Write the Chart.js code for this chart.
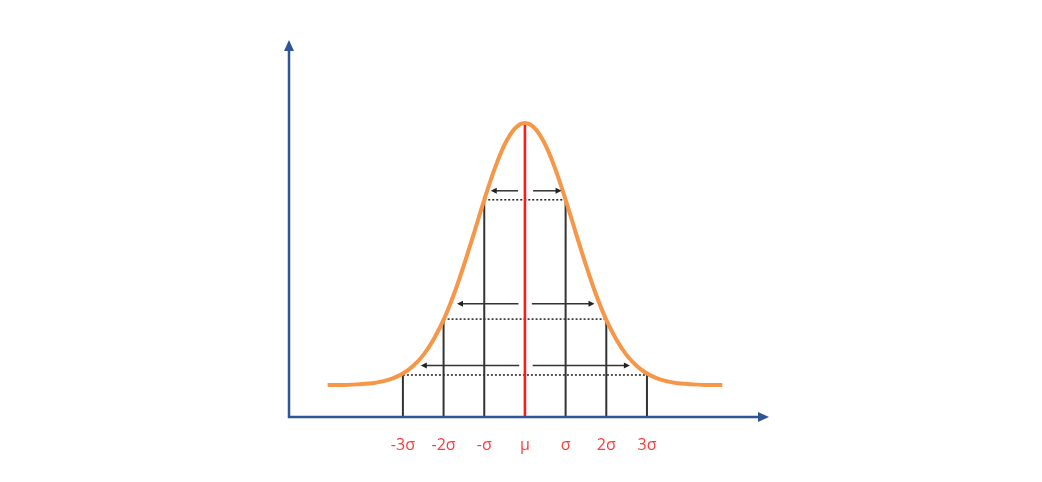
<!DOCTYPE html>
<html>
<head>
<meta charset="utf-8">
<script src="https://cdn.jsdelivr.net/npm/chart.js@4/dist/chart.umd.min.js"></script>
<style>
  html, body { margin: 0; padding: 0; background: #fff; }
  #wrap { width: 1042px; height: 482px; }
</style>
</head>
<body>
<div id="wrap"><canvas id="myChart" width="1042" height="482"></canvas></div>
<script>
// bell curve (x in sigma units, y in arbitrary height units)
const curveX = [-4.85, -4.5, -4, -3.75, -3.5, -3.25, -3, -2.75, -2.5, -2.25, -2, -1.75, -1.5, -1.25, -1, -0.75, -0.5, -0.25, 0,
                0.25, 0.5, 0.75, 1, 1.25, 1.5, 1.75, 2, 2.25, 2.5, 2.75, 3, 3.25, 3.5, 3.75, 4, 4.5, 4.85];
const curveY = [8.5, 8.5, 8.8, 9.0, 9.5, 10.3, 11.6, 13.6, 16.5, 20.6, 25.9, 32.6, 40.5, 49.1, 57.9, 66.0, 72.6, 76.9, 78.4,
                76.9, 72.6, 66.0, 57.9, 49.1, 40.5, 32.6, 25.9, 20.6, 16.5, 13.6, 11.6, 10.3, 9.5, 9.0, 8.8, 8.5, 8.5];

// sigma marks
const sigmaPos = [-3, -2, -1, 0, 1, 2, 3];
const sigmaLabels = ['-3σ', '-2σ', '-σ', 'μ', 'σ', '2σ', '3σ'];
const markHeights = [11.2, 26.1, 57.9, 78.4, 57.9, 26.1, 11.2];

// dotted levels (half width in sigma, height)
const levelSpan = [1, 2, 3];
const levelY = [57.9, 26.1, 11.2];

// arrows: height, tail and tip on each side
const arrowY = [60.3, 30.2, 13.7];
const arrowLeftTail = [-0.17, -0.16, -0.14];
const arrowLeftTip = [-0.84, -1.67, -2.56];
const arrowRightTail = [0.2, 0.17, 0.19];
const arrowRightTip = [0.9, 1.71, 2.58];

const datasets = [];
datasets.push({
    data: curveX.map((x, i) => ({ x: x, y: curveY[i] })),
    borderColor: '#f79646',
    borderWidth: 4,
    pointRadius: 0,
    cubicInterpolationMode: 'monotone',
    order: 0
});
sigmaPos.forEach((p, i) => {
    datasets.push({
        data: [{ x: p, y: 0 }, { x: p, y: markHeights[i] }],
        borderColor: p === 0 ? '#ff1a1a' : '#333333',
        borderWidth: p === 0 ? 2.6 : 2,
        pointRadius: 0,
        order: 1
    });
});
levelSpan.forEach((s, i) => {
    datasets.push({
        data: [{ x: -s, y: levelY[i] }, { x: s, y: levelY[i] }],
        borderColor: '#111111',
        borderWidth: 1.4,
        borderDash: [2, 2],
        pointRadius: 0,
        order: 2
    });
});

const decor = {
    id: 'decor',
    afterDatasetsDraw(chart) {
        const ctx = chart.ctx;
        const a = chart.chartArea;
        const xs = chart.scales.x, ys = chart.scales.y;
        ctx.save();

        // axes with arrow heads
        ctx.strokeStyle = '#2f5597';
        ctx.fillStyle = '#2f5597';
        ctx.lineWidth = 2.5;
        ctx.beginPath();
        ctx.moveTo(a.left, a.top + 8);
        ctx.lineTo(a.left, a.bottom);
        ctx.lineTo(a.right - 8, a.bottom);
        ctx.stroke();
        ctx.beginPath();
        ctx.moveTo(a.left, a.top);
        ctx.lineTo(a.left - 5, a.top + 11);
        ctx.lineTo(a.left + 5, a.top + 11);
        ctx.closePath();
        ctx.fill();
        ctx.beginPath();
        ctx.moveTo(a.right, a.bottom);
        ctx.lineTo(a.right - 11, a.bottom - 5);
        ctx.lineTo(a.right - 11, a.bottom + 5);
        ctx.closePath();
        ctx.fill();

        // arrows
        ctx.strokeStyle = '#333333';
        ctx.fillStyle = '#222222';
        ctx.lineWidth = 1.5;
        const arrow = (x0, x1, yv) => {
            const px0 = xs.getPixelForValue(x0), px1 = xs.getPixelForValue(x1);
            const py = ys.getPixelForValue(yv);
            const dir = Math.sign(px1 - px0);
            ctx.beginPath();
            ctx.moveTo(px0, py);
            ctx.lineTo(px1 - dir * 3, py);
            ctx.stroke();
            ctx.beginPath();
            ctx.moveTo(px1, py);
            ctx.lineTo(px1 - dir * 6, py - 3);
            ctx.lineTo(px1 - dir * 6, py + 3);
            ctx.closePath();
            ctx.fill();
        };
        arrowY.forEach((yv, i) => {
            arrow(arrowLeftTail[i], arrowLeftTip[i], yv);
            arrow(arrowRightTail[i], arrowRightTip[i], yv);
        });

        // sigma labels
        ctx.fillStyle = '#ff3b3b';
        ctx.font = '16px "Open Sans"';
        ctx.textAlign = 'center';
        ctx.textBaseline = 'middle';
        sigmaPos.forEach((p, i) => {
            ctx.fillText(sigmaLabels[i], xs.getPixelForValue(p), a.bottom + 28);
        });
        ctx.restore();
    }
};

const chart = new Chart(document.getElementById('myChart'), {
    type: 'line',
    data: { datasets: datasets },
    options: {
        responsive: false,
        animation: false,
        layout: { padding: { left: 289, right: 273, top: 40, bottom: 65 } },
        scales: {
            x: { type: 'linear', min: -5.8, max: 6.0, display: false },
            y: { min: 0, max: 100.5, display: false }
        },
        plugins: { legend: { display: false }, tooltip: { enabled: false } }
    },
    plugins: [decor]
});
</script>
</body>
</html>
